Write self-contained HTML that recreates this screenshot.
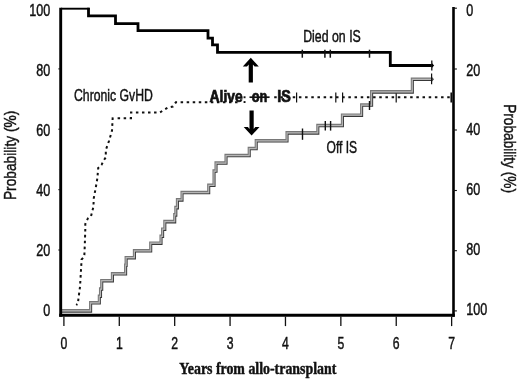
<!DOCTYPE html><html><head><meta charset="utf-8"><title>Figure</title><style>html,body{margin:0;padding:0;background:#fff;overflow:hidden}svg{display:block}</style></head><body><svg width="520" height="380" viewBox="0 0 520 380">
<rect width="520" height="380" fill="#fff"/>
<path d="M112.7,117.4 L112,130.5 L109,141 L105.8,150 L105.8,157.4 L103.7,160.5 L101.6,164.7 L98.2,168 L97.4,178 L95.7,188 L93.8,198 L93.4,207 L91,216.3 L87.9,218.4 L85.3,224 L85.3,229 L84.8,245 L84.3,256.5 L81.6,259.5 L81,270 L80,287 L78.5,298 L77.9,303.8 L76.2,305" fill="none" stroke="#111" stroke-width="2" stroke-dasharray="2.6 3.3"/>
<path d="M117.6,118.3 H131 V112.4 H160 L163.8,110 L168,107.5 L172.9,106.5 L175.8,102.3 H238" fill="none" stroke="#111" stroke-width="2" stroke-dasharray="2.5 3.55"/>
<path d="M274.2,97.3 H451" fill="none" stroke="#111" stroke-width="2" stroke-dasharray="2.5 3.68"/>
<rect x="243.6" y="96.3" width="1.9" height="1.9" fill="#111"/><rect x="243.6" y="101.1" width="1.9" height="1.9" fill="#111"/>
<line x1="249.5" y1="97.2" x2="269.6" y2="97.2" stroke="#111" stroke-width="1.7"/>
<line x1="296.6" y1="92.5" x2="296.6" y2="102.5" stroke="#111" stroke-width="1.2"/><line x1="335.8" y1="92.5" x2="335.8" y2="102.5" stroke="#111" stroke-width="1.2"/><line x1="342.6" y1="92.5" x2="342.6" y2="102.5" stroke="#111" stroke-width="1.2"/><line x1="396.2" y1="92.5" x2="396.2" y2="102.5" stroke="#111" stroke-width="1.2"/>
<g transform="scale(0.86,1)" fill="none" stroke-linejoin="miter">
<path d="M71.51,310.9 H105.35 V302.8 H115.47 V296.3 H116.86 V289 H118.26 V280.7 H130.70 V273.8 H146.05 V265.3 H146.63 V257.7 H156.28 V250.8 H175.23 V243.2 H187.21 V236.3 H189.07 V229.2 H191.63 V221.6 H203.14 V214.9 H204.42 V207.6 H206.28 V199.9 H211.63 V192.5 H242.67 V185.3 H248.84 V171 H251.16 V163 H262.79 V155.5 H289.77 V148.5 H297.91 V140.8 H333.72 V132.9 H369.53 V125.5 H398.14 V115.2 H420.47 V105 H432.09 V91.9 H479.42 V79.3 H502.09" stroke="#383838" stroke-width="2.5" transform="translate(0.55,0.55)"/>
<path d="M71.51,310.9 H105.35 V302.8 H115.47 V296.3 H116.86 V289 H118.26 V280.7 H130.70 V273.8 H146.05 V265.3 H146.63 V257.7 H156.28 V250.8 H175.23 V243.2 H187.21 V236.3 H189.07 V229.2 H191.63 V221.6 H203.14 V214.9 H204.42 V207.6 H206.28 V199.9 H211.63 V192.5 H242.67 V185.3 H248.84 V171 H251.16 V163 H262.79 V155.5 H289.77 V148.5 H297.91 V140.8 H333.72 V132.9 H369.53 V125.5 H398.14 V115.2 H420.47 V105 H432.09 V91.9 H479.42 V79.3 H502.09" stroke="#787878" stroke-width="2.5" transform="translate(-0.55,-0.55)"/>
<path d="M71.51,310.9 H105.35 V302.8 H115.47 V296.3 H116.86 V289 H118.26 V280.7 H130.70 V273.8 H146.05 V265.3 H146.63 V257.7 H156.28 V250.8 H175.23 V243.2 H187.21 V236.3 H189.07 V229.2 H191.63 V221.6 H203.14 V214.9 H204.42 V207.6 H206.28 V199.9 H211.63 V192.5 H242.67 V185.3 H248.84 V171 H251.16 V163 H262.79 V155.5 H289.77 V148.5 H297.91 V140.8 H333.72 V132.9 H369.53 V125.5 H398.14 V115.2 H420.47 V105 H432.09 V91.9 H479.42 V79.3 H502.09" stroke="#b6b6b6" stroke-width="1.25"/>
</g>
<line x1="302.5" y1="128.5" x2="302.5" y2="139.8" stroke="#111" stroke-width="1.4"/>
<line x1="325.3" y1="121" x2="325.3" y2="130.6" stroke="#111" stroke-width="1.4"/><line x1="330.6" y1="121" x2="330.6" y2="130.6" stroke="#111" stroke-width="1.4"/>
<line x1="369.5" y1="101" x2="369.5" y2="110" stroke="#111" stroke-width="1.4"/>
<line x1="431.6" y1="73.5" x2="431.6" y2="84.2" stroke="#111" stroke-width="1.2"/>
<polygon fill="#444" points="432,77 434,79.3 432,81.6"/>
<path d="M88.5,7.8 V15.9 H115.5 V23.6 H138 V30.6 H208 V38.2 H212.5 V44.8 H217.5 V52.4 H390.3 V65.5 H432.2" fill="none" stroke="#000" stroke-width="2.8" stroke-linejoin="miter"/>
<path d="M61,8.7 H89.5" fill="none" stroke="#000" stroke-width="1.9"/>
<line x1="302.3" y1="49.7" x2="302.3" y2="57.7" stroke="#111" stroke-width="1.5"/><line x1="324.9" y1="49.7" x2="324.9" y2="57.7" stroke="#111" stroke-width="1.5"/><line x1="330.3" y1="49.7" x2="330.3" y2="57.7" stroke="#111" stroke-width="1.5"/><line x1="369.5" y1="49.7" x2="369.5" y2="57.7" stroke="#111" stroke-width="1.5"/>
<line x1="431.8" y1="60.4" x2="431.8" y2="70.4" stroke="#111" stroke-width="1.3"/>
<polygon fill="#000" points="432,63.2 434.2,65.5 432,67.8"/>
<line x1="60.7" y1="7.8" x2="60.7" y2="316.8" stroke="#000" stroke-width="2.9"/>
<line x1="453.5" y1="7" x2="453.5" y2="316.8" stroke="#000" stroke-width="2.6"/>
<line x1="59.2" y1="315.3" x2="454.8" y2="315.3" stroke="#000" stroke-width="3.1"/>
<line x1="63.9" y1="316.5" x2="63.9" y2="326.1" stroke="#111" stroke-width="1.3"/><line x1="119.29" y1="316.5" x2="119.29" y2="326.1" stroke="#111" stroke-width="1.3"/><line x1="174.68" y1="316.5" x2="174.68" y2="326.1" stroke="#111" stroke-width="1.3"/><line x1="230.07" y1="316.5" x2="230.07" y2="326.1" stroke="#111" stroke-width="1.3"/><line x1="285.46" y1="316.5" x2="285.46" y2="326.1" stroke="#111" stroke-width="1.3"/><line x1="340.85" y1="316.5" x2="340.85" y2="326.1" stroke="#111" stroke-width="1.3"/><line x1="396.24" y1="316.5" x2="396.24" y2="326.1" stroke="#111" stroke-width="1.3"/><line x1="451.63" y1="316.5" x2="451.63" y2="326.1" stroke="#111" stroke-width="1.3"/>
<line x1="453" y1="8.2" x2="456.9" y2="8.2" stroke="#111" stroke-width="1.1"/>
<line x1="453" y1="69" x2="456.9" y2="69" stroke="#111" stroke-width="1.1"/>
<line x1="453" y1="130" x2="456.9" y2="130" stroke="#111" stroke-width="1.1"/>
<line x1="453" y1="190.5" x2="456.9" y2="190.5" stroke="#111" stroke-width="1.1"/>
<line x1="453" y1="250.7" x2="456.9" y2="250.7" stroke="#111" stroke-width="1.1"/>
<line x1="453" y1="310.9" x2="456.9" y2="310.9" stroke="#111" stroke-width="1.1"/>
<line x1="58.3" y1="68.9" x2="60" y2="68.9" stroke="#111" stroke-width="1"/>
<line x1="58.3" y1="129.2" x2="60" y2="129.2" stroke="#111" stroke-width="1"/>
<line x1="58.3" y1="189.7" x2="60" y2="189.7" stroke="#111" stroke-width="1"/>
<line x1="58.3" y1="250" x2="60" y2="250" stroke="#111" stroke-width="1"/>
<line x1="451.2" y1="92.6" x2="451.2" y2="102.6" stroke="#000" stroke-width="1.5"/>
<polygon fill="#000" points="250.8,57.8 258.8,66.4 254.6,66.4 252.9,64.5 252.9,82.6 248.7,82.6 248.7,64.5 247,66.4 242.8,66.4"/>
<polygon fill="#000" points="251.6,135.6 259.5,127.1 255.3,127.1 253.7,128.9 253.7,110.5 249.5,110.5 249.5,128.9 247.9,127.1 243.7,127.1"/>
<text x="29.2" y="15.7" font-family='"Liberation Sans", Arial, sans-serif' font-size="16.4" font-weight="normal" text-anchor="start" textLength="21" lengthAdjust="spacingAndGlyphs" fill="#111" stroke="#111" stroke-width="0.45" >100</text>
<text x="36.2" y="75.7" font-family='"Liberation Sans", Arial, sans-serif' font-size="16.4" font-weight="normal" text-anchor="start" textLength="14" lengthAdjust="spacingAndGlyphs" fill="#111" stroke="#111" stroke-width="0.45" >80</text>
<text x="36.2" y="135.7" font-family='"Liberation Sans", Arial, sans-serif' font-size="16.4" font-weight="normal" text-anchor="start" textLength="14" lengthAdjust="spacingAndGlyphs" fill="#111" stroke="#111" stroke-width="0.45" >60</text>
<text x="36.2" y="195.7" font-family='"Liberation Sans", Arial, sans-serif' font-size="16.4" font-weight="normal" text-anchor="start" textLength="14" lengthAdjust="spacingAndGlyphs" fill="#111" stroke="#111" stroke-width="0.45" >40</text>
<text x="36.2" y="255.7" font-family='"Liberation Sans", Arial, sans-serif' font-size="16.4" font-weight="normal" text-anchor="start" textLength="14" lengthAdjust="spacingAndGlyphs" fill="#111" stroke="#111" stroke-width="0.45" >20</text>
<text x="43.2" y="315.7" font-family='"Liberation Sans", Arial, sans-serif' font-size="16.4" font-weight="normal" text-anchor="start" textLength="7" lengthAdjust="spacingAndGlyphs" fill="#111" stroke="#111" stroke-width="0.45" >0</text>
<text x="466.2" y="15.7" font-family='"Liberation Sans", Arial, sans-serif' font-size="16.4" font-weight="normal" text-anchor="start" textLength="7" lengthAdjust="spacingAndGlyphs" fill="#111" stroke="#111" stroke-width="0.45" >0</text>
<text x="466.2" y="75.5" font-family='"Liberation Sans", Arial, sans-serif' font-size="16.4" font-weight="normal" text-anchor="start" textLength="14" lengthAdjust="spacingAndGlyphs" fill="#111" stroke="#111" stroke-width="0.45" >20</text>
<text x="466.2" y="135.3" font-family='"Liberation Sans", Arial, sans-serif' font-size="16.4" font-weight="normal" text-anchor="start" textLength="14" lengthAdjust="spacingAndGlyphs" fill="#111" stroke="#111" stroke-width="0.45" >40</text>
<text x="466.2" y="195.1" font-family='"Liberation Sans", Arial, sans-serif' font-size="16.4" font-weight="normal" text-anchor="start" textLength="14" lengthAdjust="spacingAndGlyphs" fill="#111" stroke="#111" stroke-width="0.45" >60</text>
<text x="466.2" y="254.9" font-family='"Liberation Sans", Arial, sans-serif' font-size="16.4" font-weight="normal" text-anchor="start" textLength="14" lengthAdjust="spacingAndGlyphs" fill="#111" stroke="#111" stroke-width="0.45" >80</text>
<text x="466.2" y="314.7" font-family='"Liberation Sans", Arial, sans-serif' font-size="16.4" font-weight="normal" text-anchor="start" textLength="21" lengthAdjust="spacingAndGlyphs" fill="#111" stroke="#111" stroke-width="0.45" >100</text>
<text x="60.5" y="348.6" font-family='"Liberation Sans", Arial, sans-serif' font-size="16.4" font-weight="normal" text-anchor="start" textLength="6.8" lengthAdjust="spacingAndGlyphs" fill="#111" stroke="#111" stroke-width="0.45" >0</text>
<text x="115.89" y="348.6" font-family='"Liberation Sans", Arial, sans-serif' font-size="16.4" font-weight="normal" text-anchor="start" textLength="6.8" lengthAdjust="spacingAndGlyphs" fill="#111" stroke="#111" stroke-width="0.45" >1</text>
<text x="171.28" y="348.6" font-family='"Liberation Sans", Arial, sans-serif' font-size="16.4" font-weight="normal" text-anchor="start" textLength="6.8" lengthAdjust="spacingAndGlyphs" fill="#111" stroke="#111" stroke-width="0.45" >2</text>
<text x="226.67" y="348.6" font-family='"Liberation Sans", Arial, sans-serif' font-size="16.4" font-weight="normal" text-anchor="start" textLength="6.8" lengthAdjust="spacingAndGlyphs" fill="#111" stroke="#111" stroke-width="0.45" >3</text>
<text x="282.06" y="348.6" font-family='"Liberation Sans", Arial, sans-serif' font-size="16.4" font-weight="normal" text-anchor="start" textLength="6.8" lengthAdjust="spacingAndGlyphs" fill="#111" stroke="#111" stroke-width="0.45" >4</text>
<text x="337.45" y="348.6" font-family='"Liberation Sans", Arial, sans-serif' font-size="16.4" font-weight="normal" text-anchor="start" textLength="6.8" lengthAdjust="spacingAndGlyphs" fill="#111" stroke="#111" stroke-width="0.45" >5</text>
<text x="392.84" y="348.6" font-family='"Liberation Sans", Arial, sans-serif' font-size="16.4" font-weight="normal" text-anchor="start" textLength="6.8" lengthAdjust="spacingAndGlyphs" fill="#111" stroke="#111" stroke-width="0.45" >6</text>
<text x="448.23" y="348.6" font-family='"Liberation Sans", Arial, sans-serif' font-size="16.4" font-weight="normal" text-anchor="start" textLength="6.8" lengthAdjust="spacingAndGlyphs" fill="#111" stroke="#111" stroke-width="0.45" >7</text>
<text x="74.0" y="100.9" font-family='"Liberation Sans", Arial, sans-serif' font-size="16.5" font-weight="normal" text-anchor="start" textLength="78.8" lengthAdjust="spacingAndGlyphs" fill="#111" stroke="#111" stroke-width="0.45" >Chronic GvHD</text>
<text x="303.2" y="41.5" font-family='"Liberation Sans", Arial, sans-serif' font-size="16.5" font-weight="normal" text-anchor="start" textLength="57.6" lengthAdjust="spacingAndGlyphs" fill="#111" stroke="#111" stroke-width="0.45" >Died on IS</text>
<text x="326.5" y="152.7" font-family='"Liberation Sans", Arial, sans-serif' font-size="16.5" font-weight="normal" text-anchor="start" textLength="30.6" lengthAdjust="spacingAndGlyphs" fill="#111" stroke="#111" stroke-width="0.45" >Off IS</text>
<text y="102" font-family='"Liberation Sans", Arial, sans-serif' font-size="16" font-weight="bold" fill="#111" stroke="#111" stroke-width="0.7"><tspan x="209.6" textLength="33.2" lengthAdjust="spacingAndGlyphs">Alive</tspan> <tspan x="251.8" textLength="15.6" lengthAdjust="spacingAndGlyphs">on</tspan> <tspan x="277.2" textLength="13.6" lengthAdjust="spacingAndGlyphs">IS</tspan></text>
<text x="0" y="0" font-family='"Liberation Sans", Arial, sans-serif' font-size="16.6" font-weight="normal" text-anchor="start" textLength="89.4" lengthAdjust="spacingAndGlyphs" fill="#111" stroke="#111" stroke-width="0.45" transform="translate(15.8,200.1) rotate(-90)">Probability (%)</text>
<text x="0" y="0" font-family='"Liberation Sans", Arial, sans-serif' font-size="16.8" font-weight="normal" text-anchor="start" textLength="88.8" lengthAdjust="spacingAndGlyphs" fill="#111" stroke="#111" stroke-width="0.45" transform="translate(503.8,104.2) rotate(90)">Probability (%)</text>
<text x="179.3" y="374.2" font-family='"Liberation Serif", "Times New Roman", serif' font-size="16.4" font-weight="bold" text-anchor="start" textLength="157" lengthAdjust="spacingAndGlyphs" fill="#111" stroke="#111" stroke-width="0.45" >Years from allo-transplant</text>
</svg></body></html>
